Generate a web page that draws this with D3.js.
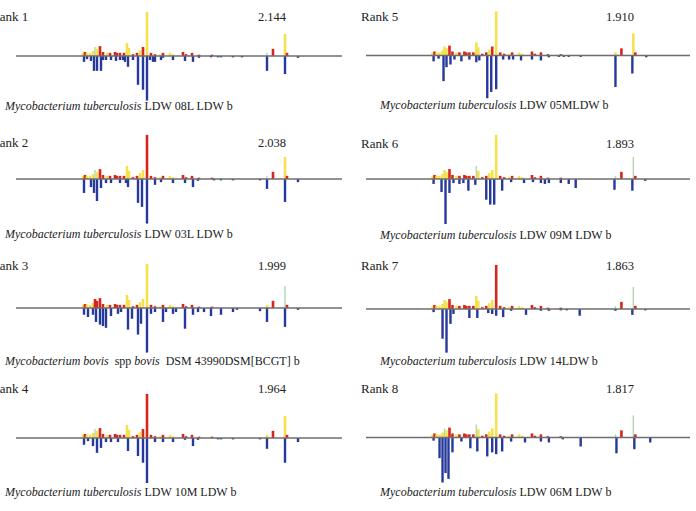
<!DOCTYPE html>
<html><head><meta charset="utf-8">
<script src="https://cdn.jsdelivr.net/npm/d3@7"></script>
<style>
body{margin:0;background:#fff;}
svg{display:block;}
text{font-family:"Liberation Serif","Times New Roman",serif;fill:#222;white-space:pre;}
</style>
</head><body><div id="chart"></div>
<script>
// ---------- data ----------
const ranks = ["Rank 1","Rank 2","Rank 3","Rank 4","Rank 5","Rank 6","Rank 7","Rank 8"];
const scores = ["2.144","2.038","1.999","1.964","1.910","1.893","1.863","1.817"];
const strains = [
  [["Mycobacterium tuberculosis",1],[" LDW 08L LDW b",0]],
  [["Mycobacterium tuberculosis",1],[" LDW 03L LDW b",0]],
  [["Mycobacterium bovis",1],["  spp ",0],["bovis",1],["  DSM 43990DSM[BCGT] b",0]],
  [["Mycobacterium tuberculosis",1],[" LDW 10M LDW b",0]],
  [["Mycobacterium tuberculosis",1],[" LDW 05MLDW b",0]],
  [["Mycobacterium tuberculosis",1],[" LDW 09M LDW b",0]],
  [["Mycobacterium tuberculosis",1],[" LDW 14LDW b",0]],
  [["Mycobacterium tuberculosis",1],[" LDW 06M LDW b",0]]
];
const mzDomain = [2000, 18300];
// sample spectrum (top, same sample in every panel)
const topMz  = [5350,5450,5550,5700,5850,5950,6050,6200,6350,6550,6700,6950,7050,7200,7400,7550,7650,7850,8050,8200,8350,8550,8750,8950,9200,9350,9700,9850,10350,10500,10800,11150,11800,14550,14850,15450,15550];
const topInt = [7,9,7,7,11,20,16,22,9,7,7,9,7,7,7,29,18,4,7,13,20,98,7,4,4,7,7,4,9,4,7,3,3,7,16,49,7];
// peak match codes per panel: Y = partial, R = no match, G = match
const match1 = "YRYYYGYRRYRRRRRYYRRYRYRRYRYYRRRRRGRYR".split("");
const match2 = "YRYYYGYRRYRRRRRYYRRYYRRRYRYYRRRRRGRYR".split("");
const match3 = "YRYYYRRRRYRRRRRYYRRYYYRRYRYYRRRRRYRGR".split("");
const match4 = "YRYYYGYRRYRRRRRYYRRYRRRRYRYYRRRRRYRYR".split("");
const match5 = "YRYYYYYRRYRRRRRYYRRYRYRRYRYYRRRRRYRYR".split("");
const match6 = "YRYYYYYRRYRRRRRGYRRYYYRRYRYYRRRRRGRGR".split("");
const match7 = "YRYYYYYRRYRRRRRYYRRYYRRRYRYYRRRRRGRGR".split("");
const match8 = "YRYYYGYRRYRRRRRGYRRYYYRRYRYYRRRRRGRGR".split("");
// reference spectra (bottom, blue): [m/z, relative intensity]
const ref1 = [[5400,13],[5550,7],[5750,11],[5900,33],[6050,33],[6250,33],[6350,9],[6500,9],[6750,9],[7000,11],[7200,9],[7350,9],[7450,13],[7600,24],[7850,9],[8100,64],[8350,75],[8550,99],[8700,9],[8850,13],[8950,13],[9250,9],[9350,4],[9850,9],[10450,11],[10850,13],[11150,4],[11750,3],[12100,3],[12250,3],[12850,3],[13300,3],[14550,33],[15450,40],[16100,4]];
const ref2 = [[5400,31],[5750,18],[5900,31],[6050,49],[6250,20],[6500,9],[6750,9],[7200,9],[7500,9],[7600,18],[8100,53],[8300,62],[8550,99],[8950,13],[9250,7],[9850,9],[10450,9],[10850,18],[11100,4],[11900,3],[12250,3],[12850,3],[14200,3],[14550,22],[15450,51],[16100,7]];
const ref3 = [[5400,15],[5600,20],[5850,15],[6000,31],[6200,37],[6350,40],[6500,44],[6750,18],[7100,13],[7250,9],[7600,48],[7800,24],[8100,59],[8250,35],[8550,99],[8750,13],[8950,9],[9350,31],[9500,9],[9850,13],[10000,9],[10450,46],[10850,15],[11100,9],[11400,9],[11750,18],[12250,15],[12850,9],[13050,4],[14200,7],[14550,31],[15450,42],[16100,4]];
const ref4 = [[5400,15],[5600,7],[5850,18],[6050,33],[6250,22],[6500,9],[6750,9],[7100,9],[7600,29],[8100,40],[8350,55],[8550,100],[8950,9],[9350,9],[9850,9],[10450,4],[10850,18],[11100,4],[12100,3],[12250,3],[12850,3],[14200,3],[14550,24],[15450,55],[16100,9]];
const ref5 = [[5400,13],[5650,7],[5900,57],[6050,26],[6250,20],[6450,9],[6800,13],[7200,9],[7550,15],[7700,11],[8100,95],[8300,81],[8550,75],[8900,9],[9200,9],[9400,9],[9800,11],[10350,9],[10800,11],[11200,4],[11700,3],[11950,3],[12200,3],[12800,3],[14550,70],[15400,40],[16100,4]];
const ref6 = [[5400,11],[5800,29],[6000,100],[6200,31],[6400,9],[6700,11],[6900,9],[7150,26],[7500,13],[8050,46],[8250,57],[8450,57],[8850,26],[9300,7],[9950,9],[10400,7],[10800,9],[11000,11],[11200,9],[11800,9],[12200,11],[12550,20],[14500,24],[15400,26],[16050,4]];
const ref7 = [[5400,7],[5850,66],[6050,97],[6250,33],[6400,11],[7200,20],[7600,20],[8150,9],[8350,11],[8550,15],[8900,18],[9300,4],[10050,13],[10800,4],[11200,4],[11800,3],[12100,3],[12750,15],[14550,4],[15400,13],[16050,3]];
const ref8 = [[5400,7],[5700,46],[5850,100],[6000,79],[6150,92],[6350,33],[6800,9],[7250,24],[7600,31],[8100,42],[8350,33],[8550,37],[8850,31],[9300,9],[10000,11],[10800,9],[11200,11],[11900,4],[12800,20],[14600,35],[15500,26],[16300,11]];

const matches = [match1,match2,match3,match4,match5,match6,match7,match8];
const refs = [ref1,ref2,ref3,ref4,ref5,ref6,ref7,ref8];

// ---------- layout ----------
const W = 696, H = 511;
const L = [
  {x0:16,x1:342,tx:-9,sx:286,lx:5,ty:21,ay:56,ly:110},
  {x0:16,x1:342,tx:-9,sx:286,lx:5,ty:147,ay:179,ly:238},
  {x0:16,x1:342,tx:-9,sx:286,lx:5,ty:270,ay:308,ly:365},
  {x0:16,x1:342,tx:-9,sx:286,lx:5,ty:393,ay:438,ly:496},
  {x0:366,x1:690,tx:361,sx:634,lx:380,ty:21,ay:55.5,ly:108.5},
  {x0:366,x1:690,tx:361,sx:634,lx:380,ty:148,ay:179,ly:239},
  {x0:366,x1:690,tx:361,sx:634,lx:380,ty:270,ay:309,ly:365},
  {x0:366,x1:690,tx:361,sx:634,lx:380,ty:393,ay:437.5,ly:496}
];
const colorMap = {Y:"#f7e04e", R:"#d8261d", G:"#aedba8"};
const blue = "#27399b";

const svg = d3.select("#chart").append("svg").attr("width",W).attr("height",H);
svg.append("rect").attr("width",W).attr("height",H).attr("fill","#fff");

ranks.forEach((rk,i)=>{
  const lay = L[i];
  const x = d3.scaleLinear().domain(mzDomain).range([lay.x0, lay.x1]);
  const y = d3.scaleLinear().domain([-100,100]).range([lay.ay+45, lay.ay-45]);
  const g = svg.append("g");

  g.selectAll("rect.ref").data(refs[i]).join("rect").attr("class","ref")
    .attr("x", d=>x(d[0])-1.2).attr("width",2.4)
    .attr("y", y(0)).attr("height", d=>y(-d[1])-y(0))
    .attr("fill", blue);

  const top = topMz.map((m,j)=>({mz:m, v:topInt[j], c:matches[i][j]}));
  g.selectAll("rect.top").data(top).join("rect").attr("class","top")
    .attr("x", d=>x(d.mz)-(d.c==="G"?0.7:1.3))
    .attr("width", d=>d.c==="G"?1.4:2.6)
    .attr("y", d=>y(d.v)).attr("height", d=>y(0)-y(d.v))
    .attr("fill", d=>colorMap[d.c]);

  g.append("line").attr("x1",lay.x0).attr("x2",lay.x1)
    .attr("y1",y(0)).attr("y2",y(0))
    .attr("stroke","#6e6e6e").attr("stroke-width",1.5);

  g.append("text").attr("x",lay.tx).attr("y",lay.ty).attr("font-size",13).text(rk);
  g.append("text").attr("x",lay.sx).attr("y",lay.ty).attr("font-size",12.5)
    .attr("text-anchor","end").text(scores[i]);
  const t = g.append("text").attr("x",lay.lx).attr("y",lay.ly).attr("font-size",12);
  strains[i].forEach(s=>{
    t.append("tspan").attr("font-style", s[1]?"italic":"normal").text(s[0]);
  });
});
</script>
</body></html>
